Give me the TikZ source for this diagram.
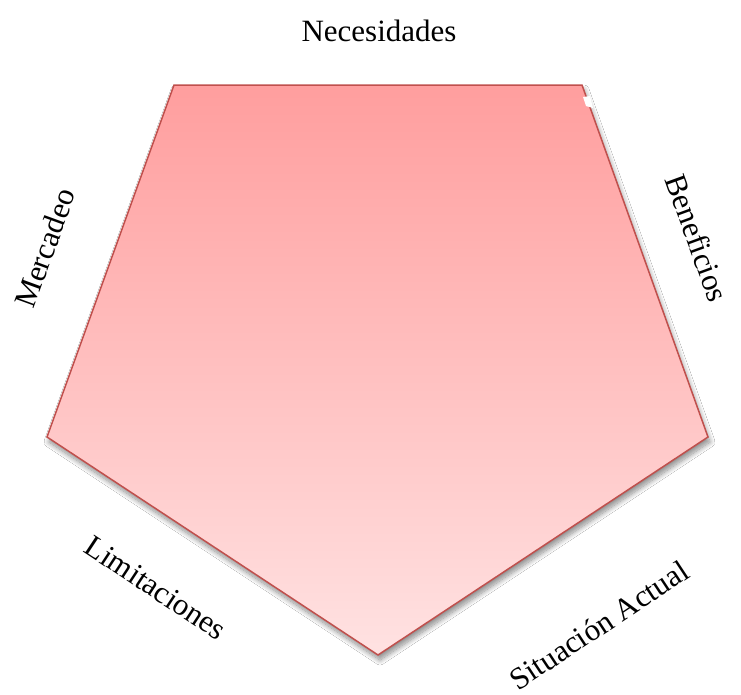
\documentclass[tikz,border=0pt]{standalone}
\usepackage{fontspec}
\setmainfont{Liberation Serif}
\usetikzlibrary{shadows.blur}
\definecolor{pentTop}{RGB}{255,158,158}
\definecolor{pentBot}{RGB}{255,226,226}
\definecolor{pentLine}{RGB}{192,80,77}
\tikzset{
  lbl/.style={font=\fontsize{31}{36}\selectfont, inner sep=0pt, anchor=center},
}
\begin{document}
\begin{tikzpicture}[x=1pt,y=-1pt]
\useasboundingbox[fill=white] (0,0) rectangle (741,694);
\coordinate (tl) at (174,85);
\coordinate (tr) at (582,85);
\coordinate (r) at (708,437);
\coordinate (b) at (378,655);
\coordinate (l) at (47,437);
\path[blur shadow={shadow xshift=2pt, shadow yshift=-5pt, shadow blur steps=12, shadow blur radius=5pt, shadow opacity=45}]
  (tl) -- (tr) -- (r) -- (b) -- (l) -- cycle;
\shade[top color=pentTop, bottom color=pentBot, draw=pentLine, line width=1.5pt, line join=miter]
  (tl) -- (tr) -- (r) -- (b) -- (l) -- cycle;
\fill[white] (583,97) -- (590,96) -- (593,108) -- (586,106) -- cycle;
\node[lbl] (nec) at (379,31) {Necesidades};
\node[lbl, rotate=70] (mer) at (45,248) {Mercadeo};
\node[lbl, rotate=-70] (ben) at (697,238) {Beneficios};
\node[lbl, rotate=-33.5] (lim) at (156,588) {Limitaciones};
\node[lbl, rotate=33.5] (sit) at (599,625) {Situación Actual};
\end{tikzpicture}
\end{document}
